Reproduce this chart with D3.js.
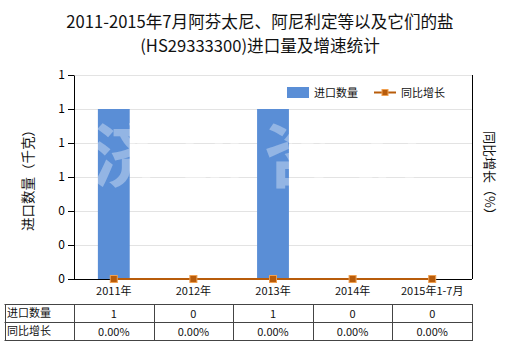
<!DOCTYPE html>
<html>
<head>
<meta charset="utf-8">
<script src="https://cdn.jsdelivr.net/npm/d3@7"></script>
<style>
  body { margin: 0; background: #fff; }
  svg text { font-family: "Microsoft YaHei", "Noto Sans CJK SC", sans-serif; }
</style>
</head>
<body>
<div id="chart"></div>
<script>
const categories = ["2011年", "2012年", "2013年", "2014年", "2015年1-7月"]
const quantity = [1, 0, 1, 0, 0]
const growth = [0, 0, 0, 0, 0]
const quantityLabels = ["1", "0", "1", "0", "0"]
const growthLabels = ["0.00%", "0.00%", "0.00%", "0.00%", "0.00%"]
const yTicks = [0, 0.2, 0.4, 0.6, 0.8, 1.0, 1.2]

function createChart() {
  const W = 520, H = 350
  const margin = { top: 75, left: 74, right: 48 }
  const plotW = W - margin.left - margin.right
  const plotH = 204

  const svg = d3.select("#chart").append("svg")
    .attr("width", W).attr("height", H)

  svg.append("text")
    .attr("x", 260).attr("y", 28)
    .attr("text-anchor", "middle").attr("font-size", "16.6px").attr("fill", "#111")
    .text("2011-2015年7月阿芬太尼、阿尼利定等以及它们的盐")
  svg.append("text")
    .attr("x", 260).attr("y", 52)
    .attr("text-anchor", "middle").attr("font-size", "16.6px").attr("fill", "#111")
    .text("(HS29333300)进口量及增速统计")

  const g = svg.append("g").attr("transform", `translate(${margin.left},${margin.top})`)

  const x = d3.scaleBand().domain(categories).range([0, plotW])
  const y = d3.scaleLinear().domain([0, 1.2]).range([plotH, 0])

  // grid
  g.selectAll(".grid").data(yTicks).enter().append("line")
    .attr("x1", 0).attr("x2", plotW)
    .attr("y1", d => y(d) + 0.5).attr("y2", d => y(d) + 0.5)
    .attr("stroke", "#e3e3e3")

  // bars
  const barW = x.bandwidth() * 0.4
  g.selectAll(".bar").data(quantity).enter().append("rect")
    .attr("x", (d, i) => x(categories[i]) + (x.bandwidth() - barW) / 2)
    .attr("width", barW)
    .attr("y", d => y(d))
    .attr("height", d => plotH - y(d))
    .attr("fill", "#5a8ed6")

  // watermark
  const wm = ["济", "研", "咨", "询"]
  svg.selectAll(".wm").data(wm).enter().append("text")
    .attr("x", (d, i) => 127 + i * 86).attr("y", 182)
    .attr("text-anchor", "middle")
    .attr("font-size", "70px").attr("font-weight", "bold")
    .attr("fill", "#fff").attr("fill-opacity", 0.35)
    .text(d => d)

  // axes
  const yAxis = g.append("g")
    .call(d3.axisLeft(y).tickValues(yTicks).tickFormat(d3.format(".0f")).tickSize(6).tickSizeOuter(0))
  yAxis.select(".domain").attr("stroke", "#000")
  yAxis.selectAll(".tick line").attr("stroke", "#000")
  yAxis.selectAll("text").attr("font-size", "12px").attr("fill", "#000")
    .attr("font-family", "Tahoma, 'DejaVu Sans', sans-serif").attr("x", -9)

  g.append("line").attr("x1", 0).attr("x2", plotW).attr("y1", plotH + 0.5).attr("y2", plotH + 0.5)
    .attr("stroke", "#000")
  g.append("line").attr("x1", plotW + 0.5).attr("x2", plotW + 0.5).attr("y1", 0).attr("y2", plotH)
    .attr("stroke", "#000")

  g.selectAll(".xl").data(categories).enter().append("text")
    .attr("x", d => x(d) + x.bandwidth() / 2).attr("y", plotH + 16)
    .attr("text-anchor", "middle").attr("font-size", "11px").attr("fill", "#111")
    .text(d => d)

  // growth line (all values 0, drawn on the baseline)
  const line = d3.line()
    .x((d, i) => x(categories[i]) + x.bandwidth() / 2)
    .y(() => plotH)
  g.append("path").datum(growth)
    .attr("d", line).attr("fill", "none").attr("stroke", "#b85c0b").attr("stroke-width", 2)
  g.selectAll(".mk").data(growth).enter().append("rect")
    .attr("x", (d, i) => x(categories[i]) + x.bandwidth() / 2 - 3.5)
    .attr("y", plotH - 3.5).attr("width", 7).attr("height", 7)
    .attr("fill", "#b85c0b").attr("stroke", "#f0a050").attr("stroke-width", 1)

  // axis titles
  svg.append("text")
    .attr("transform", "translate(33,177) rotate(-90)")
    .attr("text-anchor", "middle").attr("font-size", "13.5px").attr("fill", "#111")
    .text("进口数量（千克）")
  svg.append("text")
    .attr("transform", "translate(485,176) rotate(90)")
    .attr("text-anchor", "middle").attr("font-size", "13px").attr("fill", "#111")
    .text("同比增长（%）")

  // legend
  svg.append("rect").attr("x", 287).attr("y", 87).attr("width", 22).attr("height", 11).attr("fill", "#5a8ed6")
  svg.append("text").attr("x", 314).attr("y", 97).attr("font-size", "11px").attr("fill", "#111").text("进口数量")
  svg.append("line").attr("x1", 374).attr("x2", 396).attr("y1", 92.5).attr("y2", 92.5)
    .attr("stroke", "#b85c0b").attr("stroke-width", 2)
  svg.append("rect").attr("x", 382).attr("y", 89.5).attr("width", 6).attr("height", 6)
    .attr("fill", "#b85c0b").attr("stroke", "#f0a050")
  svg.append("text").attr("x", 401).attr("y", 97).attr("font-size", "11px").attr("fill", "#111").text("同比增长")

  // data table
  const tTop = 304, rowH = 18, tLeft = 4.5
  const t = svg.append("g")
  const tRight = margin.left + plotW
  const rows = [["进口数量", quantityLabels], ["同比增长", growthLabels]]
  for (let r = 0; r <= 2; r++) {
    t.append("line").attr("x1", tLeft).attr("x2", tRight + 0.5)
      .attr("y1", tTop + r * rowH + 0.5).attr("y2", tTop + r * rowH + 0.5)
      .attr("stroke", "#444")
  }
  const vx = [tLeft, ...categories.map(c => margin.left + x(c)), tRight]
  vx.forEach(v => {
    t.append("line").attr("x1", Math.round(v) + 0.5).attr("x2", Math.round(v) + 0.5)
      .attr("y1", tTop).attr("y2", tTop + 2 * rowH + 1).attr("stroke", "#444")
  })
  rows.forEach((row, r) => {
    t.append("text").attr("x", 7).attr("y", tTop + r * rowH + 13)
      .attr("font-size", "11px").attr("fill", "#111").text(row[0])
    t.selectAll(null).data(row[1]).enter().append("text")
      .attr("x", (d, i) => margin.left + x(categories[i]) + x.bandwidth() / 2)
      .attr("y", tTop + r * rowH + 14)
      .attr("text-anchor", "middle").attr("font-size", "11px").attr("fill", "#111")
      .text(d => d)
  })
}

createChart()
</script>
</body>
</html>
